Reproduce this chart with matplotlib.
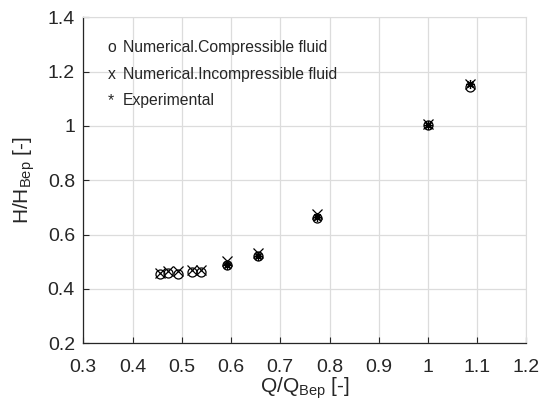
import matplotlib
matplotlib.use("Agg")
import matplotlib.pyplot as plt

plt.rcParams['font.family'] = ['Liberation Sans', 'DejaVu Sans']
plt.rcParams['mathtext.fontset'] = 'custom'
plt.rcParams['mathtext.rm'] = 'Liberation Sans'
plt.rcParams['mathtext.it'] = 'Liberation Sans'

# Data
q_comp = [0.455, 0.472, 0.492, 0.521, 0.540, 0.591, 0.654, 0.775, 1.000, 1.086]
h_comp = [0.455, 0.460, 0.455, 0.463, 0.463, 0.488, 0.523, 0.660, 1.005, 1.143]
q_inc = [0.455, 0.472, 0.492, 0.521, 0.540, 0.591, 0.654, 0.775, 1.000, 1.086]
h_inc = [0.460, 0.466, 0.466, 0.470, 0.470, 0.503, 0.532, 0.675, 1.008, 1.155]
q_exp = [0.591, 0.654, 0.775, 1.000, 1.086]
h_exp = [0.490, 0.520, 0.665, 1.005, 1.155]

xticks = [0.3, 0.4, 0.5, 0.6, 0.7, 0.8, 0.9, 1.0, 1.1, 1.2]
xticklabels = ['0.3', '0.4', '0.5', '0.6', '0.7', '0.8', '0.9', '1', '1.1', '1.2']
yticks = [0.2, 0.4, 0.6, 0.8, 1.0, 1.2, 1.4]
yticklabels = ['0.2', '0.4', '0.6', '0.8', '1', '1.2', '1.4']

fig = plt.figure(figsize=(5.43, 4.19), dpi=100)
ax = fig.add_axes([0.1534, 0.1807, 0.8162, 0.778])

ax.plot(q_comp, h_comp, linestyle='none', marker='o', markersize=6.5,
        markerfacecolor='none', markeredgecolor='black', markeredgewidth=0.9)
ax.plot(q_inc, h_inc, linestyle='none', marker='x', markersize=6.5,
        color='black', markeredgewidth=0.9)
ax.plot(q_exp, h_exp, linestyle='none', marker=(8, 2, 0), markersize=6.5,
        color='black', markeredgewidth=0.9)

ax.set_xlim(0.3, 1.2)
ax.set_ylim(0.2, 1.4)
ax.set_xticks(xticks)
ax.set_xticklabels(xticklabels)
ax.set_yticks(yticks)
ax.set_yticklabels(yticklabels)
ax.tick_params(direction='in', length=4, width=0.8, labelsize=14,
               colors='#262626')
ax.tick_params(axis='x', pad=11)
ax.tick_params(axis='y', pad=6)
ax.grid(True, color='#dcdcdc', linewidth=0.9)
ax.set_axisbelow(True)
for s in ['top', 'right']:
    ax.spines[s].set_color('#dcdcdc')
for s in ['left', 'bottom']:
    ax.spines[s].set_color('#262626')
    ax.spines[s].set_linewidth(0.9)

ax.set_xlabel(r'Q/Q$_{\mathrm{Bep}}$ [-]', fontsize=15, color='#262626', labelpad=0)
ax.set_ylabel(r'H/H$_{\mathrm{Bep}}$ [-]', fontsize=15, color='#262626', labelpad=8)

legend_items = [('o', 'Numerical.Compressible fluid'),
                ('x', 'Numerical.Incompressible fluid'),
                ('*', 'Experimental')]
for i, (sym, lab) in enumerate(legend_items):
    y = 0.908 - i * 0.082
    ax.text(0.055, y, sym, transform=ax.transAxes, fontsize=11.3,
            va='center', ha='left', color='#262626')
    ax.text(0.09, y, lab, transform=ax.transAxes, fontsize=11.3,
            va='center', ha='left', color='#262626')

fig.savefig('out.png', dpi=100)
